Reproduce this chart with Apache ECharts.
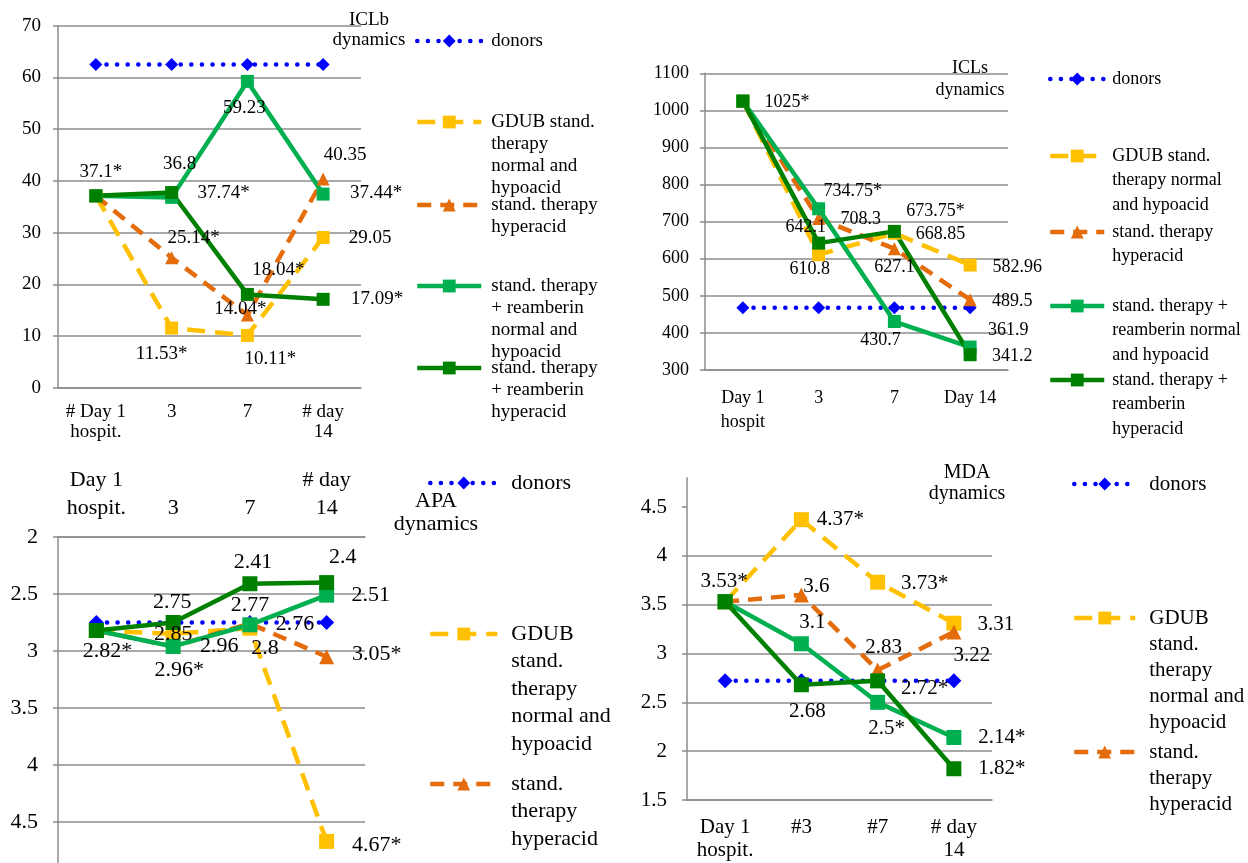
<!DOCTYPE html>
<html><head><meta charset="utf-8">
<script src="https://cdn.jsdelivr.net/npm/echarts@6/dist/echarts.min.js"></script>
<style>html,body{margin:0;padding:0;background:#fff}#c{width:1248px;height:863px}</style>
</head><body><div id="c"></div>
<script>
// ---------- categories ----------
const catsICLb = ['# Day 1\nhospit.', '3', '7', '# day\n14'];
const catsICLs = ['Day 1\nhospit', '3', '7', 'Day 14'];
const catsAPA  = ['Day 1\nhospit.', '3', '7', '# day\n14'];
const catsMDA  = ['Day 1\nhospit.', '#3', '#7', '# day\n14'];

// ---------- ICLb ----------
const iclbDonors = [62.5, 62.5, 62.5, 62.5];
const iclbGdub   = [37.1, 11.53, 10.11, 29.05];
const iclbHyp    = [37.1, 25.14, 14.04, 40.35];
const iclbReam   = [37.1, 36.8, 59.23, 37.44];
const iclbReamH  = [37.1, 37.74, 18.04, 17.09];
const iclbGdubSig  = ['', '*', '*', ''];
const iclbHypSig   = ['', '*', '*', ''];
const iclbReamSig  = ['', '', '', '*'];
const iclbReamHSig = ['*', '*', '*', '*'];

// ---------- ICLs ----------
const iclsDonors = [468, 468, 468, 468];
const iclsGdub   = [1025, 610.8, 668.85, 582.96];
const iclsHyp    = [1025, 708.3, 627.1, 489.5];
const iclsReam   = [1025, 734.75, 430.7, 361.9];
const iclsReamH  = [1025, 642.1, 673.75, 341.2];
const iclsGdubSig  = ['', '', '', ''];
const iclsHypSig   = ['', '', '', ''];
const iclsReamSig  = ['', '*', '', ''];
const iclsReamHSig = ['*', '', '*', ''];

// ---------- APA ----------
const apaDonors = [2.75, 2.75, 2.75, 2.75];
const apaGdub   = [2.82, 2.85, 2.8, 4.67];
const apaHyp    = [2.82, 2.96, 2.76, 3.05];
const apaReam   = [2.82, 2.96, 2.77, 2.51];
const apaReamH  = [2.82, 2.75, 2.41, 2.4];
const apaGdubSig  = ['', '', '', '*'];
const apaHypSig   = ['', '', '', '*'];
const apaReamSig  = ['*', '*', '', ''];
const apaReamHSig = ['', '', '', ''];

// ---------- MDA ----------
const mdaDonors = [2.72, 2.72, 2.72, 2.72];
const mdaGdub   = [3.53, 4.37, 3.73, 3.31];
const mdaHyp    = [3.53, 3.6, 2.83, 3.22];
const mdaReam   = [3.53, 3.1, 2.5, 2.14];
const mdaReamH  = [3.53, 2.68, 2.72, 1.82];
const mdaGdubSig  = ['', '*', '*', ''];
const mdaHypSig   = ['', '', '', ''];
const mdaReamSig  = ['', '', '*', '*'];
const mdaReamHSig = ['*', '', '*', '*'];

// ---------- names & styles ----------
const N_DON = 'donors';
const N_GDUB = 'GDUB stand. therapy normal and hypoacid';
const N_HYP = 'stand. therapy hyperacid';
const N_REAM = 'stand. therapy + reamberin normal and hypoacid';
const N_REAMH = 'stand. therapy + reamberin hyperacid';
const STY = {};
STY[N_DON]   = {color: '#0000FF', symbol: 'diamond', dash: [0.1, 10.5], cap: 'round', w: 4.5};
STY[N_GDUB]  = {color: '#FFC000', symbol: 'rect', dash: [18, 10], cap: 'butt', w: 4.5};
STY[N_HYP]   = {color: '#E46C0A', symbol: 'triangle', dash: [14, 9], cap: 'butt', w: 4.5};
STY[N_REAM]  = {color: '#00B050', symbol: 'rect', dash: 'solid', cap: 'butt', w: 4.5};
STY[N_REAMH] = {color: '#008000', symbol: 'rect', dash: 'solid', cap: 'butt', w: 4.5};

const FONT = 'Liberation Serif';
const GRAY = '#8c8c8c';

// label offsets (centre of text relative to point), null = no label
const LAB = [
  {gdub: [null, [-10, 26], [23, 24], [47, 1]], hyp: [null, [22, -20], [-7, -6], [22, -24]],
   ream: [null, [8, -33], [-3, 27], [53, -1]], reamH: [[5, -24], [52, 0], [31, -24], [54, 0]]},
  {gdub: [null, [-9, 15], [46, 1], [47, 2]], hyp: [null, [42, 1], [0, 19], [42, 2]],
   ream: [null, [34, -17], [-14, 19], [38, -17]], reamH: [[44, 1], [-13, -16], [41, -20], [42, 2]]},
  {gdub: [null, [0, 0], [15, 20], [50, 4]], hyp: [null, [46, 0], [45, 1], [50, -2]],
   ream: [[11, 21], [6, 24], [0, -20], [44, 0]], reamH: [null, [-1, -20], [3, -22], [16, -25]]},
  {gdub: [null, [39, 0], [47, 1], [42, 1]], hyp: [null, [15, -8], [6, -23], [18, 23]],
   ream: [null, [11, -21], [9, 26], [48, 0]], reamH: [[-1, -20], [6, 27], [47, 8], [48, 0]]}
];

const PANELS = [
  {cats: catsICLb, grid: {left: 58, top: 25.7, width: 303, height: 362},
   y: {min: 0, max: 70, interval: 10}, fs: 19, lfs: 19, xfs: 19, xlh: 20, xmargin: 14, ymargin: 17, sym: 13,
   data: {don: iclbDonors, gdub: iclbGdub, hyp: iclbHyp, ream: iclbReam, reamH: iclbReamH},
   sig: {gdub: iclbGdubSig, hyp: iclbHypSig, ream: iclbReamSig, reamH: iclbReamHSig}},
  {cats: catsICLs, grid: {left: 705, top: 73.3, width: 303, height: 296.7},
   y: {min: 300, max: 1100, interval: 100}, fs: 18, lfs: 18, xfs: 18, xlh: 24, xmargin: 16, ymargin: 16, sym: 13,
   data: {don: iclsDonors, gdub: iclsGdub, hyp: iclsHyp, ream: iclsReam, reamH: iclsReamH},
   sig: {gdub: iclsGdubSig, hyp: iclsHypSig, ream: iclsReamSig, reamH: iclsReamHSig}},
  {cats: catsAPA, grid: {left: 58, top: 537, width: 307, height: 342},
   y: {min: 2, max: 5, interval: 0.5, inverse: true}, top: true, fs: 22, lfs: 22, xfs: 22, xlh: 28, xmargin: 15, ymargin: 20, sym: 15,
   data: {don: apaDonors, gdub: apaGdub, hyp: apaHyp, ream: apaReam, reamH: apaReamH},
   sig: {gdub: apaGdubSig, hyp: apaHypSig, ream: apaReamSig, reamH: apaReamHSig}},
  {cats: catsMDA, grid: {left: 687, top: 477.7, width: 305, height: 322.3},
   y: {min: 1.5, max: 4.8, interval: 0.5}, hideMax: true, fs: 21, lfs: 21, xfs: 21, xlh: 23, xmargin: 16, ymargin: 20, sym: 15,
   data: {don: mdaDonors, gdub: mdaGdub, hyp: mdaHyp, ream: mdaReam, reamH: mdaReamH},
   sig: {gdub: mdaGdubSig, hyp: mdaHypSig, ream: mdaReamSig, reamH: mdaReamHSig}}
];

const KEYS = [['don', N_DON], ['gdub', N_GDUB], ['hyp', N_HYP], ['ream', N_REAM], ['reamH', N_REAMH]];

const grids = [], xAxes = [], yAxes = [], series = [];
PANELS.forEach(function (p, i) {
  grids.push(Object.assign({outerBoundsMode: 'none', containLabel: false}, p.grid));
  xAxes.push({
    gridIndex: i, type: 'category', data: p.cats, position: p.top ? 'top' : 'bottom',
    axisLine: {onZero: false, lineStyle: {color: GRAY, width: 1.5}},
    axisTick: {length: 5, lineStyle: {color: GRAY, width: 1.5}},
    axisLabel: {interval: 0, fontFamily: FONT, fontSize: p.xfs, lineHeight: p.xlh, color: '#000', margin: p.xmargin},
    splitLine: {show: false}
  });
  const ya = {
    gridIndex: i, type: 'value', min: p.y.min, max: p.y.max, interval: p.y.interval, inverse: !!p.y.inverse,
    axisLine: {show: true, lineStyle: {color: GRAY, width: 1.5}},
    axisTick: {show: true, length: 5, lineStyle: {color: GRAY, width: 1.5}},
    axisLabel: {fontFamily: FONT, fontSize: p.fs, color: '#000', margin: p.ymargin,
      formatter: function (v) { return String(v); }},
    splitLine: {show: true, lineStyle: {color: GRAY, width: 1.5}}
  };
  if (p.hideMax) {
    ya.axisLabel.showMaxLabel = false;
    ya.splitLine.showMaxLine = false;
    const tv = [];
    for (let v = p.y.min; v <= 4.5 + 1e-9; v += p.y.interval) tv.push(+v.toFixed(2));
    ya.axisTick.customValues = tv;
  }
  yAxes.push(ya);
  KEYS.forEach(function (k) {
    const key = k[0], name = k[1], st = STY[name];
    const vals = p.data[key];
    const offs = LAB[i][key];
    const sig = p.sig[key];
    const items = vals.map(function (v, j) {
      if (!offs || !offs[j]) return {value: v};
      return {value: v, label: {show: true, position: 'inside', offset: offs[j], formatter: String(v) + sig[j]}};
    });
    series.push({
      type: 'line', name: name, xAxisIndex: i, yAxisIndex: i, data: items,
      symbol: st.symbol, symbolSize: p.sym,
      lineStyle: {color: st.color, width: st.w, type: st.dash, cap: st.cap},
      itemStyle: {color: st.color},
      label: {show: false, fontFamily: FONT, fontSize: p.lfs, color: '#000', textBorderWidth: 0},
      emphasis: {disabled: true}, animation: false
    });
  });
});

// ---------- legends ----------
function mkLegend(name, text, left, iconY, lh, fs, iw, pad) {
  const lines = text.split('\n');
  const n = lines.length;
  const full = new Array(n - 1).fill('').concat(lines).join('\n');
  return {
    left: left, top: iconY - (n - 0.5) * lh, orient: 'vertical', padding: 0,
    itemWidth: iw, itemHeight: 16, selectedMode: false, data: [name], formatter: full,
    textStyle: {fontFamily: FONT, fontSize: fs, lineHeight: lh, color: '#000', padding: [0, 0, 0, pad]},
    lineStyle: {width: 4.5}
  };
}
const legends = [
  mkLegend(N_DON, 'donors', 415, 41, 22, 19, 64, 5),
  mkLegend(N_GDUB, 'GDUB stand.\ntherapy\nnormal and\nhypoacid', 415, 122, 22, 19, 64, 5),
  mkLegend(N_HYP, 'stand. therapy\nhyperacid', 415, 205, 22, 19, 64, 5),
  mkLegend(N_REAM, 'stand. therapy\n+ reamberin\nnormal and\nhypoacid', 415, 286, 22, 19, 64, 5),
  mkLegend(N_REAMH, 'stand. therapy\n+ reamberin\nhyperacid', 415, 368, 22, 19, 64, 5),

  mkLegend(N_DON, 'donors', 1048, 79, 24.5, 18, 54, 3),
  mkLegend(N_GDUB, 'GDUB stand.\ntherapy normal\nand hypoacid', 1048, 156, 24.5, 18, 54, 3),
  mkLegend(N_HYP, 'stand. therapy\nhyperacid', 1048, 232, 24.5, 18, 54, 3),
  mkLegend(N_REAM, 'stand. therapy +\nreamberin normal\nand hypoacid', 1048, 306, 24.5, 18, 54, 3),
  mkLegend(N_REAMH, 'stand. therapy +\nreamberin\nhyperacid', 1048, 380, 24.5, 18, 54, 3),

  mkLegend(N_DON, 'donors', 428, 483, 27.5, 22, 67, 9),
  mkLegend(N_GDUB, 'GDUB\nstand.\ntherapy\nnormal and\nhypoacid', 428, 634, 27.5, 22, 67, 9),
  mkLegend(N_HYP, 'stand.\ntherapy\nhyperacid', 428, 784, 27.5, 22, 67, 9),

  mkLegend(N_DON, 'donors', 1072, 484, 26, 21, 61, 9),
  mkLegend(N_GDUB, 'GDUB\nstand.\ntherapy\nnormal and\nhypoacid', 1072, 618, 26, 21, 61, 9),
  mkLegend(N_HYP, 'stand.\ntherapy\nhyperacid', 1072, 752, 26, 21, 61, 9)
];

// ---------- titles ----------
function mkTitle(text, cx, top, fs, lh) {
  return {text: text, left: cx, top: top, padding: 0, textAlign: 'center', textVerticalAlign: 'top',
    textStyle: {fontFamily: FONT, fontSize: fs, lineHeight: lh, fontWeight: 'normal', color: '#000'}};
}
const titles = [
  mkTitle('ICLb\ndynamics', 369, 10, 19, 20),
  mkTitle('ICLs\ndynamics', 970, 57, 18, 22),
  mkTitle('APA\ndynamics', 436, 490, 22, 23),
  mkTitle('MDA\ndynamics', 967, 462, 20, 21)
];

const chart = echarts.init(document.getElementById('c'), null, {renderer: 'canvas'});
chart.setOption({
  backgroundColor: '#fff', animation: false,
  title: titles, legend: legends, grid: grids, xAxis: xAxes, yAxis: yAxes, series: series
});
</script></body></html>
